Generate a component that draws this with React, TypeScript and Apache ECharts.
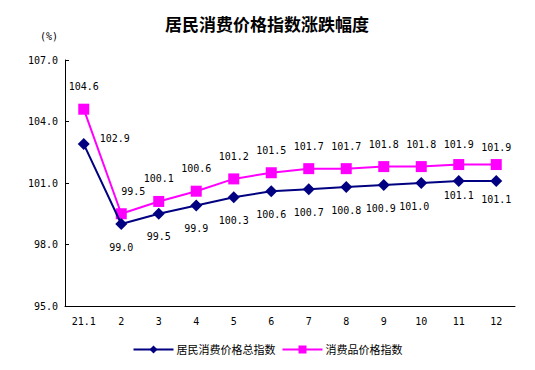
import React, { useEffect, useRef } from "react";
import * as echarts from "echarts";

const categories = ["21.1", "2", "3", "4", "5", "6", "7", "8", "9", "10", "11", "12"];
const cpiTotal = [102.9, 99.0, 99.5, 99.9, 100.3, 100.6, 100.7, 100.8, 100.9, 101.0, 101.1, 101.1];
const consumerGoods = [104.6, 99.5, 100.1, 100.6, 101.2, 101.5, 101.7, 101.7, 101.8, 101.8, 101.9, 101.9];
const yTicks = { min: 95, max: 107, interval: 3 };

const FONT = 'SimSun, "Liberation Sans", "Noto Sans CJK SC", sans-serif';
const NUM = '"DejaVu Sans Mono", monospace';

const blueOffsets: Record<number, any> = {
  0: { position: "right", distance: 10, offset: [0, -6] },
  8: { offset: [-3, 0] },
  9: { offset: [-7, 0] },
  10: { offset: [0, -8] },
  11: { offset: [0, -4] },
};
const pinkOffsets: Record<number, any> = {
  1: { offset: [12, 0] },
  10: { offset: [0, 2] },
  11: { offset: [0, 5] },
};

export default function App() {
  const ref = useRef<HTMLDivElement>(null);
  useEffect(() => {
    if (!ref.current) return;
    const chart = echarts.init(ref.current, null, { renderer: "svg" });
    chart.setOption({
      animation: false,
      backgroundColor: "#ffffff",
      title: {
        text: "居民消费价格指数涨跌幅度",
        left: 262,
        top: 12,
        textAlign: "center",
        textStyle: { fontSize: 17, fontWeight: "bold", color: "#000", fontFamily: FONT },
      },
      graphic: [
        {
          type: "text",
          left: 40,
          top: 31,
          style: { text: "(%)", fontSize: 10, fill: "#000", fontFamily: NUM },
        },
      ],
      legend: {
        bottom: 10,
        left: "center",
        itemWidth: 40,
        itemHeight: 10,
        itemGap: 6,
        textStyle: { fontSize: 11, color: "#000", fontFamily: FONT, padding: [0, 0, 0, -2] },
        data: ["居民消费价格总指数", "消费品价格指数"],
      },
      grid: { left: 65, right: 20, top: 60, bottom: 64, containLabel: false },
      xAxis: {
        type: "category",
        data: categories,
        boundaryGap: true,
        axisLine: { lineStyle: { color: "#000", width: 1 } },
        axisTick: { inside: true, length: 4, lineStyle: { color: "#000" } },
        axisLabel: { color: "#000", fontSize: 10, margin: 10, fontFamily: NUM },
        splitLine: { show: false },
      },
      yAxis: {
        type: "value",
        min: yTicks.min,
        max: yTicks.max,
        interval: yTicks.interval,
        axisLine: { show: true, lineStyle: { color: "#000", width: 1 } },
        axisTick: { show: true, inside: true, length: 4, lineStyle: { color: "#000" } },
        axisLabel: {
          color: "#000",
          fontSize: 10,
          margin: 7,
          fontFamily: NUM,
          formatter: (v: number) => v.toFixed(1),
        },
        splitLine: { show: false },
      },
      series: [
        {
          name: "居民消费价格总指数",
          type: "line",
          data: cpiTotal.map((v, i) => ({
            value: v,
            label: blueOffsets[i] || undefined,
          })),
          color: "#000080",
          lineStyle: { color: "#000080", width: 2 },
          itemStyle: { color: "#000080" },
          symbol: "diamond",
          symbolSize: 12,
          z: 3,
          label: {
            show: true,
            position: "bottom",
            distance: 12,
            color: "#000",
            fontSize: 10,
            fontFamily: NUM,
            formatter: (p: any) => Number(p.value).toFixed(1),
          },
        },
        {
          name: "消费品价格指数",
          type: "line",
          data: consumerGoods.map((v, i) => ({
            value: v,
            label: pinkOffsets[i] || undefined,
          })),
          color: "#ff00ff",
          lineStyle: { color: "#ff00ff", width: 2 },
          itemStyle: { color: "#ff00ff" },
          symbol: "rect",
          symbolSize: 11,
          z: 2,
          label: {
            show: true,
            position: "top",
            distance: 12,
            color: "#000",
            fontSize: 10,
            fontFamily: NUM,
            formatter: (p: any) => Number(p.value).toFixed(1),
          },
        },
      ],
    });
    return () => chart.dispose();
  }, []);
  return <div ref={ref} style={{ width: 535, height: 370, position: "absolute", left: 0, top: 0 }} />;
}
